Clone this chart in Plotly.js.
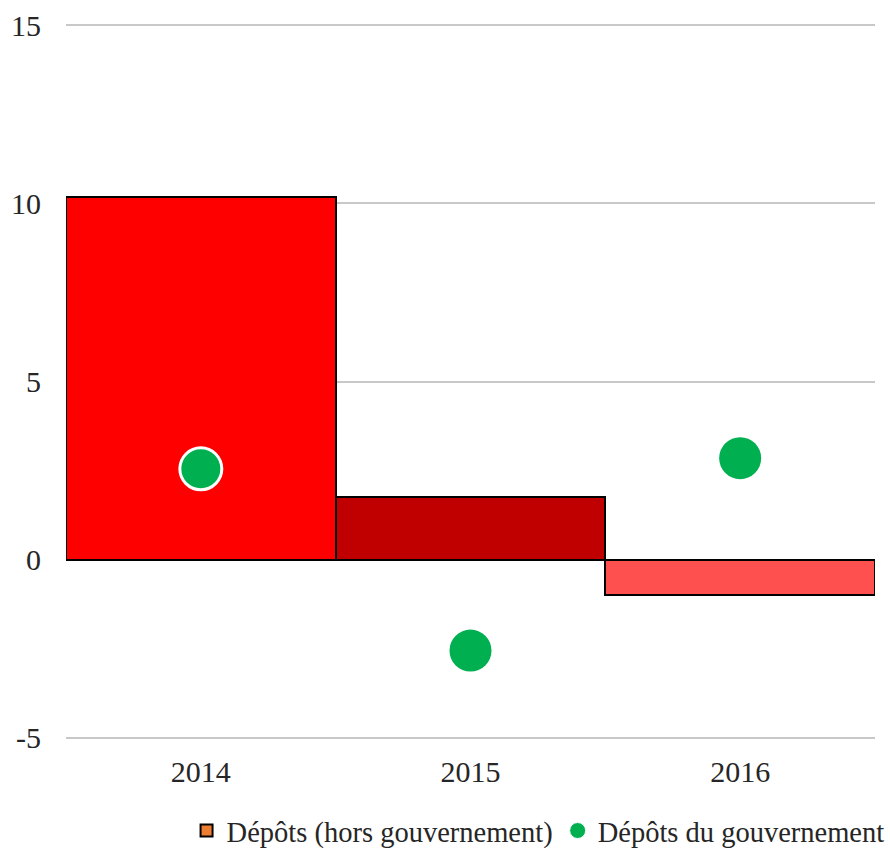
<!DOCTYPE html>
<html>
<head>
<meta charset="utf-8">
<script src="https://cdn.plot.ly/plotly-3.0.1.min.js"></script>
<style>
  body { margin: 0; background: #fff; }
  #chart { width: 890px; height: 852px; }
</style>
</head>
<body>
<div id="chart"></div>
<script>
const years = ['2014', '2015', '2016'];
const depotsHorsGouv = [10.17, 1.77, -1.0];
const depotsGouv = [2.55, -2.55, 2.85];
const barColors = ['#FF0000', '#C00000', '#FF5050'];
const dotLineWidths = [3, 0, 0];

const family = 'Liberation Serif, DejaVu Serif, serif';
const tickFont = { family: family, size: 30, color: '#262626' };
const legendFont = { family: family, size: 28.5, color: '#262626' };

const data = [
  {
    type: 'bar', x: years, y: depotsHorsGouv, showlegend: false,
    marker: { color: barColors, line: { color: '#000', width: 2 } },
    hoverinfo: 'x+y'
  },
  // legend entry only, orange swatch like the original
  {
    type: 'bar', x: [null], y: [null], name: 'Dépôts (hors gouvernement)',
    marker: { color: '#ED7D31', line: { color: '#000', width: 2 } }
  },
  {
    type: 'scatter', mode: 'markers', x: years, y: depotsGouv, name: 'Dépôts du gouvernement',
    marker: { color: '#00B050', size: 42, line: { color: '#fff', width: dotLineWidths } }
  }
];

const layout = {
  width: 890, height: 852,
  margin: { l: 66, r: 15, t: 24, b: 113, autoexpand: false },
  font: tickFont,
  paper_bgcolor: '#fff', plot_bgcolor: '#fff',
  bargap: 0,
  xaxis: { type: 'category', showgrid: false, showline: false, ticks: '', ticklabelstandoff: 12, tickfont: tickFont },
  yaxis: {
    range: [-5.03, 15.03], tickvals: [-5, 0, 5, 10, 15], ticktext: ['-5', '0', '5', '10', '15'],
    showgrid: true, gridcolor: '#C8C8C8', gridwidth: 1.5, zeroline: false,
    showline: false, ticks: '', ticklabelstandoff: 24, tickfont: tickFont
  },
  legend: {
    orientation: 'h', x: 1.018, xanchor: 'right', y: -0.093, yanchor: 'top',
    font: legendFont, itemwidth: 30, traceorder: 'normal'
  }
};

Plotly.newPlot('chart', data, layout, { displayModeBar: false });
</script>
</body>
</html>
